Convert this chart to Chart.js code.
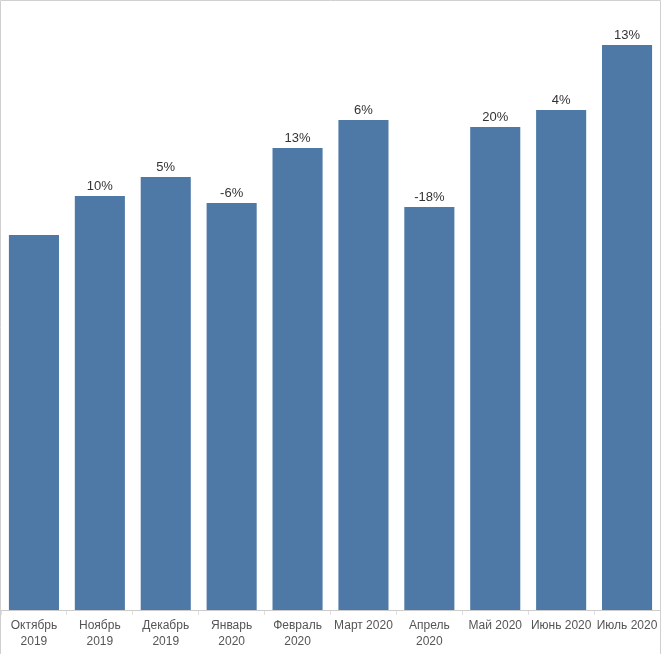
<!DOCTYPE html>
<html>
<head>
<meta charset="utf-8">
<script src="https://cdn.jsdelivr.net/npm/chart.js@4/dist/chart.umd.min.js"></script>
<style>
html,body{margin:0;padding:0;background:#fff;}
#wrap{width:667px;height:654px;position:relative;}
</style>
</head>
<body>
<div id="wrap"><canvas id="c" width="667" height="654"></canvas></div>
<script>
const categories = [
  ['Октябрь', '2019'], ['Ноябрь', '2019'], ['Декабрь', '2019'], ['Январь', '2020'],
  ['Февраль', '2020'], 'Март 2020', ['Апрель', '2020'], 'Май 2020', 'Июнь 2020', 'Июль 2020'
];
const values = [375, 414, 433, 407, 462, 490, 403, 483, 500, 565];
const changeLabels = ['', '10%', '5%', '-6%', '13%', '6%', '-18%', '20%', '4%', '13%'];

const FONT = "'Liberation Sans', Arial, sans-serif";

const frame = {
  id: 'frame',
  afterDraw(chart) {
    const ctx = chart.ctx;
    const a = chart.chartArea;
    ctx.save();
    ctx.strokeStyle = '#d0d0d0';
    ctx.lineWidth = 1;
    ctx.beginPath();
    ctx.moveTo(0.5, 654);
    ctx.lineTo(0.5, 0.5);
    ctx.lineTo(a.right + 0.5, 0.5);
    ctx.lineTo(a.right + 0.5, 654);
    ctx.stroke();
    // data labels
    ctx.fillStyle = '#333';
    ctx.font = '13px ' + FONT;
    ctx.textAlign = 'center';
    ctx.textBaseline = 'bottom';
    const meta = chart.getDatasetMeta(0);
    meta.data.forEach((bar, i) => {
      const t = changeLabels[i];
      if (t) ctx.fillText(t, bar.x, bar.y - 3);
    });
    ctx.restore();
  }
};

new Chart(document.getElementById('c'), {
  type: 'bar',
  data: {
    labels: categories,
    datasets: [{
      data: values,
      backgroundColor: '#4e79a7',
      categoryPercentage: 1,
      barPercentage: 0.76
    }]
  },
  options: {
    responsive: false,
    animation: false,
    layout: { padding: { left: 1, right: 7, top: 1, bottom: 0 } },
    plugins: { legend: { display: false }, tooltip: { enabled: false } },
    scales: {
      x: {
        offset: true,
        grid: { offset: true, drawOnChartArea: false, tickLength: 5, color: '#e0e0e0' },
        border: { color: '#cccccc' },
        ticks: {
          autoSkip: false, maxRotation: 0, minRotation: 0, padding: 3,
          color: '#555', font: { family: FONT, size: 12, lineHeight: 1.3 }
        },
        afterFit(s) { s.height = 44; }
      },
      y: {
        display: false,
        min: 0,
        max: 609
      }
    }
  },
  plugins: [frame]
});
</script>
</body>
</html>
